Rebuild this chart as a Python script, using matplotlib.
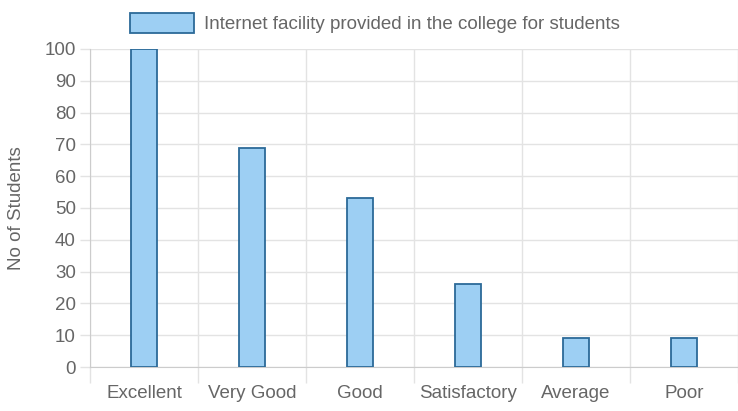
import numpy as np
import matplotlib
matplotlib.use("Agg")
import matplotlib.pyplot as plt

# data
ratings = ["Excellent", "Very Good", "Good", "Satisfactory", "Average", "Poor"]
students = [100, 69, 53, 26, 9, 9]
series_name = "Internet facility provided in the college for students"
y_ticks = list(range(0, 101, 10))

plt.rcParams["font.family"] = ["Liberation Sans", "DejaVu Sans"]
text_col = "#666666"
grid_col = "#e3e3e3"
fs = 13.5

fig = plt.figure(figsize=(7.38, 4.11), dpi=100)
ax = fig.add_axes([0.122, 0.107, 0.878, 0.774])

x = np.arange(len(ratings))
ax.bar(x, students, width=0.24, color="#9dcff3", edgecolor="#2c6a98",
       linewidth=1.3, label=series_name, zorder=3)

ax.set_xlim(-0.5, len(ratings) - 0.5)
ax.set_ylim(0, 100)

# labels at centres, grid + ticks at the category edges
ax.set_xticks(x)
ax.set_xticklabels(ratings)
ax.set_xticks(np.arange(len(ratings) + 1) - 0.5, minor=True)
ax.tick_params(axis="x", which="major", length=0, pad=13, labelsize=fs, labelcolor=text_col)
ax.tick_params(axis="x", which="minor", length=11.5, color=grid_col, width=1)
ax.set_yticks(y_ticks)
ax.tick_params(axis="y", length=7.2, color=grid_col, width=1, labelsize=fs,
               labelcolor=text_col, pad=3)
ax.grid(True, which="minor", axis="x", color=grid_col, linewidth=1, zorder=0)
ax.grid(True, which="major", axis="y", color=grid_col, linewidth=1, zorder=0)

for side in ["top", "right"]:
    ax.spines[side].set_visible(False)
for side in ["left", "bottom"]:
    ax.spines[side].set_color("#cccccc")

ax.set_ylabel("No of Students", fontsize=fs, color=text_col, labelpad=14)

leg = fig.legend(loc="upper center", bbox_to_anchor=(0.508, 1.01), frameon=False,
                 fontsize=fs, handlelength=3.4, handleheight=1.25, handletextpad=0.5)
for t in leg.get_texts():
    t.set_color(text_col)

fig.savefig("out.png", dpi=100)
